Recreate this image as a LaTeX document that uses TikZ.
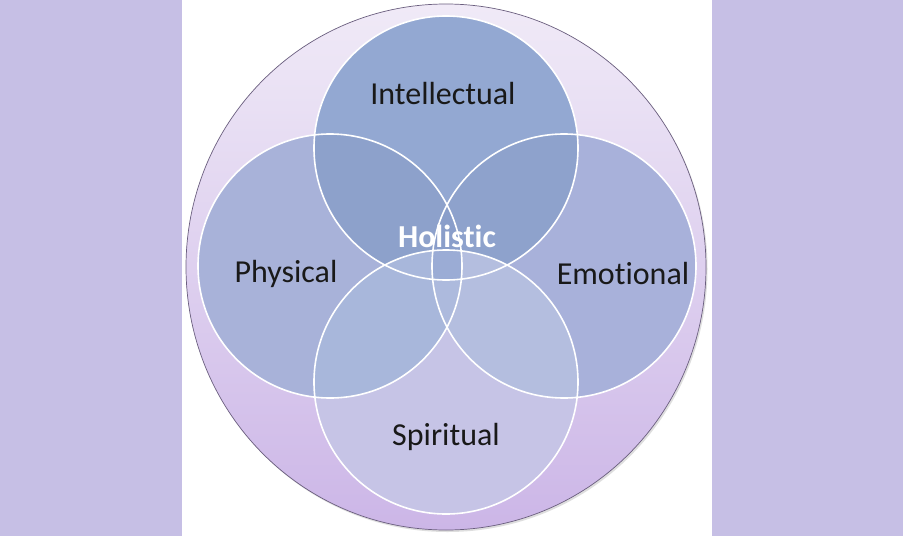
\documentclass[tikz,border=0pt]{standalone}
\usepackage{fontspec}
\setmainfont[Ligatures=NoCommon]{Carlito}
\definecolor{band}{HTML}{C6BFE5}
\definecolor{cint}{HTML}{93A8D2}
\definecolor{cphy}{HTML}{A8B2D9}
\definecolor{cemo}{HTML}{A8B1DA}
\definecolor{cspi}{HTML}{C6C4E6}
\definecolor{cip}{HTML}{8DA1CB}
\definecolor{cie}{HTML}{8EA2CC}
\definecolor{cps}{HTML}{A8B7DB}
\definecolor{ces}{HTML}{B4BEDF}
\definecolor{cpe}{HTML}{9EADD6}
\definecolor{cpes}{HTML}{ADBADD}
\definecolor{ccore}{HTML}{8A9ECA}
\definecolor{cfour}{HTML}{9BACD5}
\definecolor{rimc}{HTML}{6A5E7E}
\tikzset{
  venn/.style={circle, minimum size=264pt, inner sep=0pt, draw=white, line width=1.6pt},
  lbl/.style={font=\fontsize{32}{36}\selectfont, text=black!90, inner sep=0pt},
}
\begin{document}
\begin{tikzpicture}[x=1pt,y=-1pt]
\useasboundingbox (0,0) rectangle (903,536);
\fill[white] (0,0) rectangle (903,536);
\fill[band] (0,0) rectangle (182,536);
\fill[band] (712,0) rectangle (903,536);
% outer circle
\fill[black!25,opacity=0.5] (447.5,269) ellipse [x radius=260pt, y radius=263pt];
\shade[top color={rgb,255:red,240;green,234;blue,247}, bottom color={rgb,255:red,204;green,182;blue,231}, draw=rimc, line width=0.7pt]
  (446,267) ellipse [x radius=260pt, y radius=263pt];
\coordinate (ci) at (446,148);
\coordinate (cp) at (330,266);
\coordinate (ce) at (564,266);
\coordinate (cs) at (446,382);
% base fills
\fill[cint] (ci) circle (132);
\fill[cphy] (cp) circle (132);
\fill[cemo] (ce) circle (132);
\fill[cspi] (cs) circle (132);
% overlaps
\begin{scope}\clip (ci) circle (132); \fill[cip] (cp) circle (132); \fill[cie] (ce) circle (132);\end{scope}
\begin{scope}\clip (cs) circle (132); \fill[cps] (cp) circle (132); \fill[ces] (ce) circle (132);\end{scope}
\begin{scope}\clip (cp) circle (132); \fill[cpe] (ce) circle (132);\end{scope}
\begin{scope}\clip (ci) circle (132); \clip (cp) circle (132); \fill[ccore] (ce) circle (132);\end{scope}
\begin{scope}\clip (cs) circle (132); \clip (cp) circle (132); \fill[cpes] (ce) circle (132);\end{scope}
\begin{scope}\clip (cs) circle (132); \clip (cp) circle (132); \clip (ce) circle (132); \fill[cfour] (ci) circle (132);\end{scope}
% outlines as named nodes
\node[venn] (int) at (ci) {};
\node[venn] (phy) at (cp) {};
\node[venn] (emo) at (ce) {};
\node[venn] (spi) at (cs) {};
% labels
\node[lbl] (tint) at (443,94) {Intellectual};
\node[lbl] (tphy) at (286,274) {Physical};
\node[lbl] (temo) at (623,274) {Emotional};
\node[lbl] (tspi) at (446,437) {Spiritual};
\node[lbl, text=white, font=\fontsize{32}{36}\selectfont\bfseries] (thol) at (447,236) {Holistic};
\end{tikzpicture}
\end{document}
